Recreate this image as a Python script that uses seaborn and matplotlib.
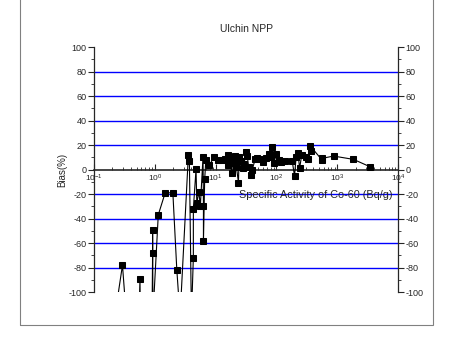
import numpy as np
import pandas as pd
import matplotlib.pyplot as plt
import seaborn as sns
from matplotlib.patches import Rectangle
from matplotlib.ticker import LogLocator, MultipleLocator, NullFormatter

# Co-60 specific activity (Bq/g) and bias (%), in measurement order
activity = [0.22, 0.294, 0.34, 0.55, 0.57, 0.58, 0.90, 0.92, 0.92, 0.93, 1.14, 1.48, 1.98,
            2.3, 2.6, 3.56, 3.7, 4.0, 4.3, 4.3, 4.76, 4.9, 5.3, 5.6, 6.2, 6.3, 6.3, 6.6,
            6.9, 7.9, 9.5, 11, 12.6, 14, 15.7, 16, 17, 18.5, 18.9, 20, 21, 22, 23.7,
            24.3, 26, 28, 29.3, 31.3, 33, 35, 37.8, 40, 45, 48.4, 55, 60, 66.4, 75, 80,
            85, 90, 100, 112, 120, 140, 181, 198, 210, 226, 240, 260, 300, 330, 365,
            360, 560, 558, 867, 1840, 3440]
bias = [-120, -78, -120, -120, -89, -120, -120, -68, -49, -120, -37, -19, -19,
        -82, -120, 11.6, 7, -120, -72, -32, 0.4, -27.6, -18, -30, 10.4, -30, -58.6, -8,
        7.8, 3.7, 10.4, 8, 7.8, 9, 11.8, 3.7, 8, -3, 9.1, 5, 11, 2, -10.8,
        10.4, 7, 1, 4.5, 14.5, 11, 2, -4.5, 0, 9, 9.1, 9, 6, 9.1, 13, 10.4,
        18.6, 5, 13, 7.8, 6, 7, 7.2, -5.3, 10, 13.2, 1, 12, 10, 8.3, 15.3,
        19.2, 7.8, 9.1, 11, 8.3, 2.3]

grid_levels = [-80, -60, -40, -20, 20, 40, 60, 80]

df = pd.DataFrame({'activity': activity, 'bias': bias})

sns.set_style('ticks')
plt.rcParams['font.family'] = ['Liberation Sans', 'DejaVu Sans']
plt.rcParams['axes.unicode_minus'] = False

fig = plt.figure(figsize=(4.54, 3.45), dpi=100)
ax = fig.add_axes([0.207, 0.1536, 0.670, 0.710])

for lv in grid_levels:
    ax.axhline(lv, color='#0000ff', lw=1.0, zorder=1)

sns.lineplot(data=df, x='activity', y='bias', sort=False, estimator=None,
             color='black', lw=0.8, marker='s', markersize=5,
             markeredgecolor='black', ax=ax, zorder=3)

ax.set_xscale('log')
ax.set_xlim(0.1, 1e4)
ax.set_ylim(-100, 100)

# x axis drawn through zero
ax.spines['bottom'].set_position(('data', 0))
ax.spines['bottom'].set_linewidth(1.2)
ax.spines['top'].set_visible(False)
ax.spines['left'].set_linewidth(0.9)
ax.spines['right'].set_linewidth(0.9)

ax.xaxis.set_major_locator(LogLocator(base=10, numticks=10))
ax.xaxis.set_minor_locator(LogLocator(base=10, subs=np.arange(2, 10), numticks=10))
ax.xaxis.set_minor_formatter(NullFormatter())
ax.tick_params(axis='x', which='major', direction='in', length=4, labelsize=6, pad=2)
ax.tick_params(axis='x', which='minor', direction='in', length=2)

ax.yaxis.set_major_locator(MultipleLocator(20))
ax.yaxis.set_minor_locator(MultipleLocator(10))
ax.tick_params(axis='y', which='both', left=True, right=True, labelright=True,
               direction='out', labelsize=6.5, pad=1.5)
ax.tick_params(axis='y', which='major', length=4)
ax.tick_params(axis='y', which='minor', length=2)

ax.set_xlabel('')
ax.set_ylabel('Bias(%)', fontsize=7, labelpad=1)
ax.set_title('Ulchin NPP', fontsize=7.5, pad=11)
ax.text(0.98, 0.396, 'Specific Activity of Co-60 (Bq/g)', transform=ax.transAxes,
        ha='right', va='center', fontsize=7.8)

fig.add_artist(Rectangle((20 / 454, 20 / 345), 413 / 454, 1.0, transform=fig.transFigure,
                         fill=False, edgecolor='#808080', lw=0.8))

fig.savefig('out.png', dpi=100)
